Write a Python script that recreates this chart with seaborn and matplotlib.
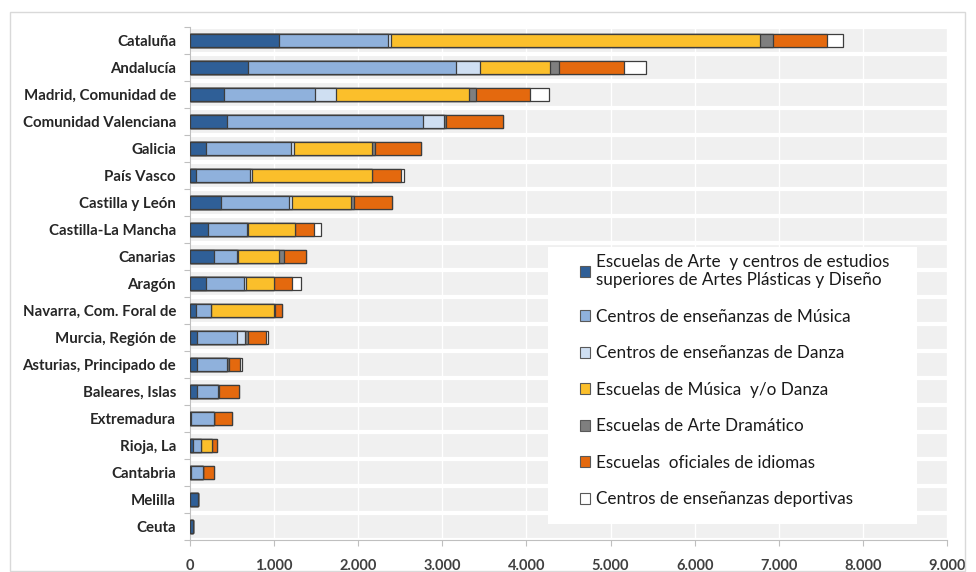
import numpy as np
import pandas as pd
import matplotlib.pyplot as plt
import seaborn as sns
from matplotlib.patches import Patch, Rectangle

# Comunidades autónomas (top to bottom)
regiones = ['Cataluña', 'Andalucía', 'Madrid, Comunidad de', 'Comunidad Valenciana',
            'Galicia', 'País Vasco', 'Castilla y León', 'Castilla-La Mancha',
            'Canarias', 'Aragón', 'Navarra, Com. Foral de', 'Murcia, Región de',
            'Asturias, Principado de', 'Baleares, Islas', 'Extremadura', 'Rioja, La',
            'Cantabria', 'Melilla', 'Ceuta']

# values, one list per type of centre
arte_diseno = [1064, 688, 401, 437, 191, 68, 373, 218, 286, 191, 72, 79, 87, 79, 12, 32, 12, 99, 32]
musica = [1288, 2479, 1081, 2337, 1013, 651, 807, 458, 278, 453, 174, 485, 350, 251, 274, 95, 139, 0, 0]
danza = [32, 282, 250, 246, 28, 20, 32, 19, 12, 20, 0, 92, 0, 0, 0, 0, 0, 0, 0]
escuelas_musica = [4391, 834, 1586, 0, 929, 1419, 707, 557, 485, 337, 751, 0, 0, 0, 0, 131, 0, 0, 0]
arte_dramatico = [159, 100, 79, 20, 44, 0, 28, 0, 60, 0, 10, 30, 32, 15, 0, 0, 0, 0, 0]
idiomas = [635, 774, 644, 684, 545, 353, 457, 218, 262, 215, 86, 220, 127, 238, 211, 68, 135, 0, 0]
deportivas = [200, 259, 227, 0, 0, 32, 0, 88, 0, 107, 0, 20, 28, 0, 0, 0, 0, 0, 0]

series = ['Escuelas de Arte  y centros de estudios\nsuperiores de Artes Plásticas y Diseño',
          'Centros de enseñanzas de Música',
          'Centros de enseñanzas de Danza',
          'Escuelas de Música  y/o Danza',
          'Escuelas de Arte Dramático',
          'Escuelas  oficiales de idiomas',
          'Centros de enseñanzas deportivas']
colores = ['#2f5f97', '#8fb1dc', '#cfdff2', '#fbbf2b', '#7f7f7f', '#e4690e', '#ffffff']

xticks = [0, 1000, 2000, 3000, 4000, 5000, 6000, 7000, 8000, 9000]
xtick_labels = ['0', '1.000', '2.000', '3.000', '4.000', '5.000', '6.000', '7.000', '8.000', '9.000']

df = pd.DataFrame({'region': regiones})
valores = [arte_diseno, musica, danza, escuelas_musica, arte_dramatico, idiomas, deportivas]
for nombre, v in zip(series, valores):
    df[nombre] = v
# cumulative sums for the stacked look
acum = df[series].cumsum(axis=1)

sns.set_style('white')
plt.rcParams['font.family'] = ['Lato', 'DejaVu Sans']

fig = plt.figure(figsize=(9.76, 5.72), dpi=100)
ax = fig.add_axes([190 / 976, 1 - 540 / 572, 757 / 976, 513 / 572])
ax.set_facecolor('#f0f0f0')

# draw from the outermost segment inwards so each one covers the next
for nombre, col in reversed(list(zip(series, colores))):
    sns.barplot(x=acum[nombre], y=df['region'], color=col, saturation=1, orient='h',
                width=0.46, edgecolor='#3d3d3d', linewidth=0.9, ax=ax, zorder=3)

ax.set_xlim(0, 9000)
ax.set_xticks(xticks)
ax.set_xticklabels(xtick_labels, fontsize=10.5, fontweight='bold', color='#404040')
ax.set_yticklabels(regiones, fontsize=10.8, fontweight='bold', color='#262626')
ax.set_xlabel('')
ax.set_ylabel('')

# white bands between rows and white vertical gridlines
ax.set_yticks(np.arange(-0.5, len(regiones)), minor=True)
ax.grid(which='minor', axis='y', color='white', lw=3, zorder=1)
ax.grid(which='major', axis='x', color='white', lw=1, zorder=1)
ax.grid(which='major', axis='y', visible=False)
ax.set_axisbelow(True)

ax.tick_params(axis='y', which='major', length=0, pad=10)
ax.tick_params(axis='y', which='minor', length=4, color='#bfbfbf', width=0.8, left=True)
ax.tick_params(axis='x', length=4, color='#bfbfbf', width=0.8, pad=10, bottom=True)
for lado in ['top', 'right']:
    ax.spines[lado].set_visible(False)
ax.spines['left'].set_color('#bfbfbf')
ax.spines['bottom'].set_color('#bfbfbf')

# white legend panel sitting over the plot area
ax.add_patch(Rectangle((0.473, 0.031), 0.487, 0.54, transform=ax.transAxes,
                       facecolor='white', edgecolor='none', zorder=4))

handles = [Patch(facecolor=c, edgecolor='#595959', linewidth=0.8) for c in colores]
leg = ax.legend(handles, series, loc='upper left', bbox_to_anchor=(0.515, 0.558),
                borderaxespad=0, frameon=False, fontsize=12.3,
                handlelength=0.6, handleheight=0.6, handletextpad=0.35,
                labelspacing=1.2, borderpad=0)
leg.set_zorder(5)
for t in leg.get_texts():
    t.set_color('#1a1a1a')

# light chart border like the original frame
fig.patches.append(Rectangle((10 / 976, 0.002), 955 / 976, 1 - 12 / 572 - 0.002,
                             transform=fig.transFigure, fill=False,
                             edgecolor='#d9d9d9', linewidth=1))

fig.savefig('out.png', dpi=100)
